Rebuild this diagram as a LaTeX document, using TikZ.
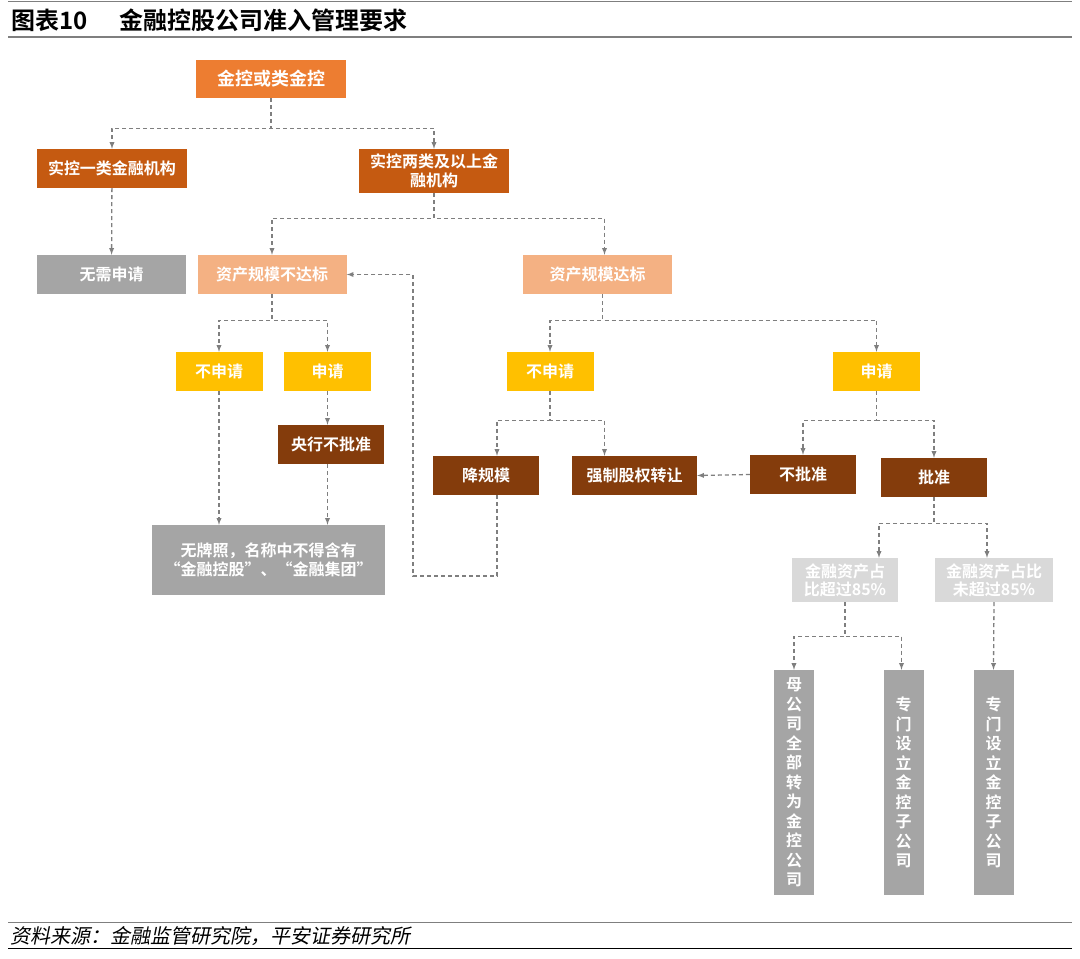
\documentclass[tikz,border=0pt]{standalone}
\usepackage{fontspec}
\setmainfont{Noto Sans CJK SC}[BoldFont={Noto Sans CJK SC Bold}]
\newfontfamily\srcfont{Noto Sans CJK SC}[FakeSlant=0.2]
\usepackage{xcolor}
\usepackage{tikz}
\usetikzlibrary{arrows, positioning, calc}
\definecolor{rootorange}{HTML}{ED7D31}
\definecolor{holdorange}{HTML}{C55A11}
\definecolor{scaleorange}{HTML}{F4B183}
\definecolor{applygold}{HTML}{FFC000}
\definecolor{decidebrown}{HTML}{843C0C}
\definecolor{boxgrey}{HTML}{A5A5A5}
\definecolor{ratiogrey}{HTML}{D9D9D9}
\definecolor{linegrey}{HTML}{7F7F7F}
\tikzstyle{box} = [rectangle, inner sep=0pt, text centered, align=center, text=white, minimum width=106, minimum height=39, font=\bfseries\fontsize{16}{19}\selectfont]
\tikzstyle{rootbox} = [box, fill=rootorange, minimum width=150, minimum height=38, font=\bfseries\fontsize{18}{21}\selectfont]
\tikzstyle{holdbox} = [box, fill=holdorange, minimum width=150]
\tikzstyle{greybox} = [box, fill=boxgrey, minimum width=149]
\tikzstyle{scalebox} = [box, fill=scaleorange, minimum width=149]
\tikzstyle{applybox} = [box, fill=applygold, minimum width=87]
\tikzstyle{decidebox} = [box, fill=decidebrown]
\tikzstyle{ratiobox} = [box, fill=ratiogrey, minimum height=44, font=\bfseries\fontsize{16}{18}\selectfont]
\tikzstyle{columnbox} = [box, fill=boxgrey, minimum width=40, minimum height=225, font=\bfseries\fontsize{16}{19.5}\selectfont]
\tikzstyle{arrow} = [draw=linegrey, line width=1.3, dash pattern=on 4pt off 3pt, ->, >=latex]

\begin{document}
\begin{tikzpicture}[x=1pt, y=-1pt]
            \useasboundingbox (0,0) rectangle (1080,959);
            % Title and rules
            \draw [linegrey, line width=1] (8,1.5) -- (1072,1.5);
            \node (figno) [anchor=west, font=\bfseries\fontsize{24}{27}\selectfont] at (8,20) {图表10};
            \node (title) [anchor=west, font=\bfseries\fontsize{24}{27}\selectfont] at (116,20) {金融控股公司准入管理要求};
            \draw [linegrey, line width=2] (8,37) -- (1072,37);
            
            % Top level
            \node (root) [rootbox] at (271,79) {金控或类金控};
            \node (single) [holdbox] at (112,168.5) {实控一类金融机构};
            \node (multi) [holdbox, minimum height=44] at (434,171) {实控两类及以上金\\融机构};
            
            % Scale level
            \node (noneed) [greybox] at (111.5,274.5) {无需申请};
            \node (below) [scalebox] at (272,274.5) {资产规模不达标};
            \node (reach) [scalebox] at (597.5,274.5) {资产规模达标};
            
            % Left branch
            \node (noapplyA) [applybox] at (219,371.5) {不申请};
            \node (applyA) [applybox] at (327.5,371.5) {申请};
            \node (rejectA) [decidebox] at (331,444.5) {央行不批准};
            \node (nolicense) [greybox, minimum width=233, minimum height=70] at (268.5,560) {无牌照，名称中不得含有\\“金融控股”、“金融集团”};
            
            % Right branch
            \node (noapplyB) [applybox] at (550,371.5) {不申请};
            \node (applyB) [applybox] at (876.5,371.5) {申请};
            \node (shrink) [decidebox] at (486,475.5) {降规模};
            \node (transfer) [decidebox, minimum width=125] at (634.5,475.5) {强制股权转让};
            \node (rejectB) [decidebox] at (803,474.5) {不批准};
            \node (approve) [decidebox] at (934,477.5) {批准};
            
            % Ratio level
            \node (over) [ratiobox] at (845,580) {金融资产占\\比超过85\%};
            \node (under) [ratiobox, minimum width=118] at (994,580) {金融资产占比\\未超过85\%};
            \node (parent) [columnbox] at (794,782.5) {母\\公\\司\\全\\部\\转\\为\\金\\控\\公\\司};
            \node (subA) [columnbox] at (903.5,782.5) {专\\门\\设\\立\\金\\控\\子\\公\\司};
            \node (subB) [columnbox] at (993.5,782.5) {专\\门\\设\\立\\金\\控\\子\\公\\司};
            
            % Arrows
            \draw [arrow] (root.south) -- ++(0,30) -| (single.north);
            \draw [arrow] (root.south) -- ++(0,30) -| (multi.north);
            \draw [arrow] (single) -- (noneed);
            \draw [arrow] (multi.south) -- ++(0,25) -| (below.north);
            \draw [arrow] (multi.south) -- ++(0,25) -| ([xshift=7pt]reach.north);
            \draw [arrow] (below.south) -- ++(0,26) -| (noapplyA.north);
            \draw [arrow] (below.south) -- ++(0,26) -| (applyA.north);
            \draw [arrow] (noapplyA.south) -- (noapplyA.south |- nolicense.north);
            \draw [arrow] (applyA.south) -- (applyA.south |- rejectA.north);
            \draw [arrow] (applyA.south |- rejectA.south) -- (applyA.south |- nolicense.north);
            \coordinate (loop) at (413,576);
            \draw [arrow] ([xshift=11pt]shrink.south) |- (loop) |- (below.east);
            \draw [arrow] ([xshift=5pt]reach.south) -- ++(0,26) -| (noapplyB.north);
            \draw [arrow] ([xshift=5pt]reach.south) -- ++(0,26) -| (applyB.north);
            \draw [arrow] (noapplyB.south) -- ++(0,29) -| ([xshift=11pt]shrink.north);
            \draw [arrow] (noapplyB.south) -- ++(0,29) -| ([xshift=-30pt]transfer.north);
            \draw [arrow] (applyB.south) -- ++(0,29) -| (rejectB.north);
            \draw [arrow] (applyB.south) -- ++(0,29) -| (approve.north);
            \draw [arrow] (rejectB.west) -- (transfer.east);
            \draw [arrow] (approve.south) -- ++(0,26) -| ([xshift=34pt]over.north);
            \draw [arrow] (approve.south) -- ++(0,26) -| ([xshift=-7pt]under.north);
            \draw [arrow] (over.south) -- ++(0,34) -| (parent.north);
            \draw [arrow] (over.south) -- ++(0,34) -| ([xshift=-2pt]subA.north);
            \draw [arrow] (under.south) -- (subB.north);
            
            % Source
            \draw [linegrey, line width=1.5] (8,922.5) -- (1072,922.5);
            \node (source) [anchor=west, font=\srcfont\fontsize{20}{23}\selectfont] at (7,936) {资料来源：金融监管研究院，平安证券研究所};
            \draw [black, line width=1] (8,948) -- (1072,948);
        \end{tikzpicture}
\end{document}
